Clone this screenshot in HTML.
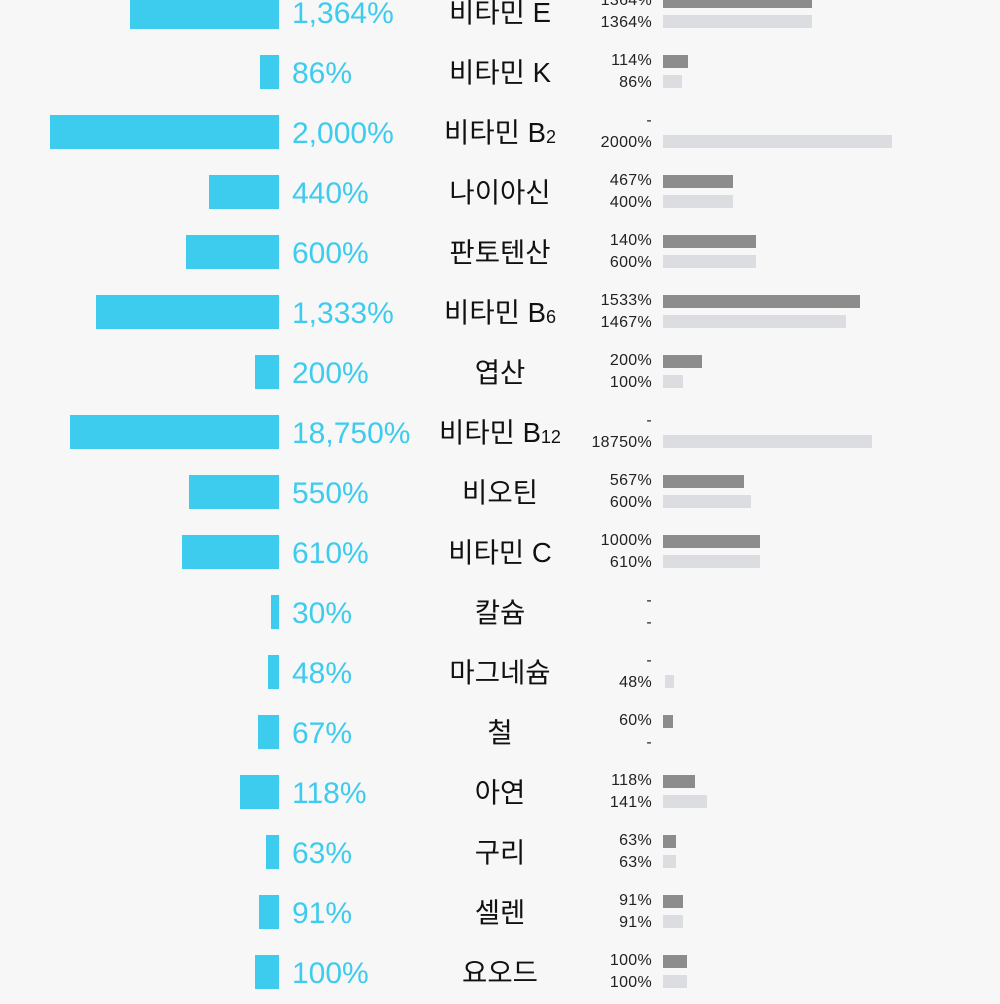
<!DOCTYPE html>
<html><head><meta charset="utf-8"><style>
body{margin:0;width:1000px;height:1000px;background:#f7f7f7;overflow:hidden;position:relative;font-family:"Liberation Sans","Noto Sans CJK KR",sans-serif}
.r{position:absolute;left:0;width:1000px;height:60px}
.c{position:absolute;top:13px;height:34px;background:#3dcbee}
.p{position:absolute;left:292px;top:2px;line-height:60px;font-size:30px;color:#3dcbee}
.n{position:absolute;left:400px;top:1px;width:200px;text-align:center;line-height:60px;font-size:27.5px;color:#111}
.n sub{font-size:18px;vertical-align:-1px}
.l1,.l2{position:absolute;right:348px;font-size:16px;letter-spacing:0.3px;line-height:18px;color:#222}
.l1{top:10px}.l2{top:32px}
.d{position:absolute;left:663px;top:13px;height:13px;background:#8c8c8c}
.g{position:absolute;left:663px;top:33px;height:13px;background:#dcdde0}
</style></head><body>
<div class="r" style="top:-18px"><div class="c" style="left:130px;width:149px"></div><div class="p">1,364%</div><div class="n">비타민 E</div><div class="l1">1364%</div><div class="l2">1364%</div><div class="d" style="width:149px"></div><div class="g" style="width:149px"></div></div>
<div class="r" style="top:42px"><div class="c" style="left:260px;width:19px"></div><div class="p">86%</div><div class="n">비타민 K</div><div class="l1">114%</div><div class="l2">86%</div><div class="d" style="width:25px"></div><div class="g" style="width:19px"></div></div>
<div class="r" style="top:102px"><div class="c" style="left:50px;width:229px"></div><div class="p">2,000%</div><div class="n">비타민 B<sub>2</sub></div><div class="l1">-</div><div class="l2">2000%</div><div class="g" style="width:229px"></div></div>
<div class="r" style="top:162px"><div class="c" style="left:209px;width:70px"></div><div class="p">440%</div><div class="n">나이아신</div><div class="l1">467%</div><div class="l2">400%</div><div class="d" style="width:70px"></div><div class="g" style="width:70px"></div></div>
<div class="r" style="top:222px"><div class="c" style="left:186px;width:93px"></div><div class="p">600%</div><div class="n">판토텐산</div><div class="l1">140%</div><div class="l2">600%</div><div class="d" style="width:93px"></div><div class="g" style="width:93px"></div></div>
<div class="r" style="top:282px"><div class="c" style="left:96px;width:183px"></div><div class="p">1,333%</div><div class="n">비타민 B<sub>6</sub></div><div class="l1">1533%</div><div class="l2">1467%</div><div class="d" style="width:197px"></div><div class="g" style="width:183px"></div></div>
<div class="r" style="top:342px"><div class="c" style="left:255px;width:24px"></div><div class="p">200%</div><div class="n">엽산</div><div class="l1">200%</div><div class="l2">100%</div><div class="d" style="width:39px"></div><div class="g" style="width:20px"></div></div>
<div class="r" style="top:402px"><div class="c" style="left:70px;width:209px"></div><div class="p">18,750%</div><div class="n">비타민 B<sub>12</sub></div><div class="l1">-</div><div class="l2">18750%</div><div class="g" style="width:209px"></div></div>
<div class="r" style="top:462px"><div class="c" style="left:189px;width:90px"></div><div class="p">550%</div><div class="n">비오틴</div><div class="l1">567%</div><div class="l2">600%</div><div class="d" style="width:81px"></div><div class="g" style="width:88px"></div></div>
<div class="r" style="top:522px"><div class="c" style="left:182px;width:97px"></div><div class="p">610%</div><div class="n">비타민 C</div><div class="l1">1000%</div><div class="l2">610%</div><div class="d" style="width:97px"></div><div class="g" style="width:97px"></div></div>
<div class="r" style="top:582px"><div class="c" style="left:271px;width:8px"></div><div class="p">30%</div><div class="n">칼슘</div><div class="l1">-</div><div class="l2">-</div></div>
<div class="r" style="top:642px"><div class="c" style="left:268px;width:11px"></div><div class="p">48%</div><div class="n">마그네슘</div><div class="l1">-</div><div class="l2">48%</div><div class="g" style="left:665px;width:9px"></div></div>
<div class="r" style="top:702px"><div class="c" style="left:258px;width:21px"></div><div class="p">67%</div><div class="n">철</div><div class="l1">60%</div><div class="l2">-</div><div class="d" style="width:10px"></div></div>
<div class="r" style="top:762px"><div class="c" style="left:240px;width:39px"></div><div class="p">118%</div><div class="n">아연</div><div class="l1">118%</div><div class="l2">141%</div><div class="d" style="width:32px"></div><div class="g" style="width:44px"></div></div>
<div class="r" style="top:822px"><div class="c" style="left:266px;width:13px"></div><div class="p">63%</div><div class="n">구리</div><div class="l1">63%</div><div class="l2">63%</div><div class="d" style="width:13px"></div><div class="g" style="width:13px"></div></div>
<div class="r" style="top:882px"><div class="c" style="left:259px;width:20px"></div><div class="p">91%</div><div class="n">셀렌</div><div class="l1">91%</div><div class="l2">91%</div><div class="d" style="width:20px"></div><div class="g" style="width:20px"></div></div>
<div class="r" style="top:942px"><div class="c" style="left:255px;width:24px"></div><div class="p">100%</div><div class="n">요오드</div><div class="l1">100%</div><div class="l2">100%</div><div class="d" style="width:24px"></div><div class="g" style="width:24px"></div></div>
</body></html>
